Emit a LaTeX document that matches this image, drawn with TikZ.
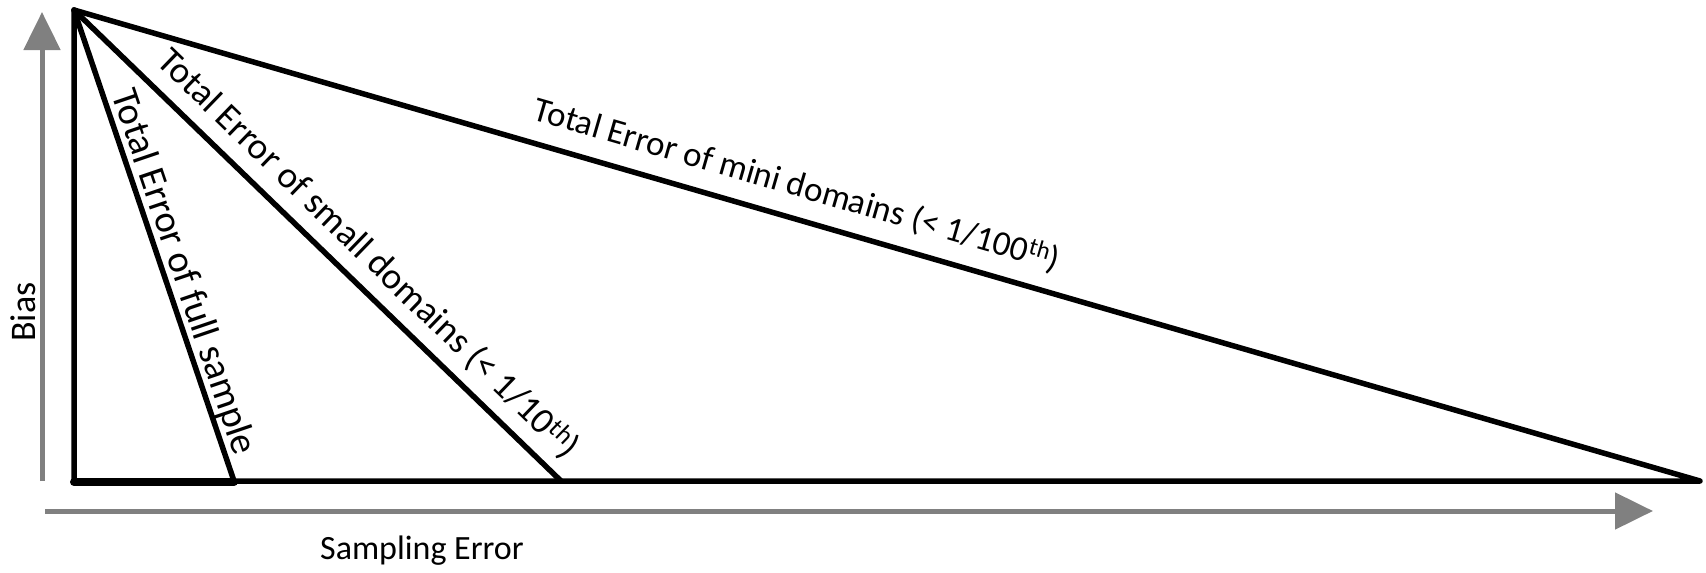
\documentclass[tikz,border=0pt]{standalone}
\usepackage{fontspec}
\setmainfont{Carlito}
\usetikzlibrary{arrows.meta}
\definecolor{axisgray}{RGB}{128,128,128}
\begin{document}
\begin{tikzpicture}[x=1pt,y=-1pt,
  edge/.style={line width=5.5pt, line join=round, line cap=round},
  axis/.style={draw=axisgray, line width=5pt, -{Triangle[length=38pt,width=36pt]}},
  lbl/.style={font=\fontsize{#1}{#1}\selectfont, inner sep=0pt, sloped},
  plain/.style={font=\fontsize{#1}{#1}\selectfont, inner sep=0pt}
]
\useasboundingbox (0,0) rectangle (1706,573);
\coordinate (A) at (74,10);
\coordinate (O) at (74,481);
\coordinate (F) at (234,481);
\coordinate (S) at (561,481);
\coordinate (M) at (1700,481);
\coordinate (ya0) at (42,481);
\coordinate (ya1) at (42,12);
\coordinate (xa0) at (45,511);
\coordinate (xa1) at (1653,511);
\draw[axis] (ya0) -- (ya1);
\draw[axis] (xa0) -- (xa1);
\draw[edge] (O) -- (A) -- (M) -- cycle;
\draw[edge] (A) -- (S);
\draw[edge] (A) -- (F);
\draw[line width=8pt, line cap=round] ([yshift=-1pt]O) -- ([yshift=-1pt]F);
\path (A) -- (M) node[lbl=35, pos=0.439, above=17pt] (lm) {Total Error of mini domains (< 1/100\textsuperscript{th})};
\path (A) -- (S) node[lbl=37, pos=0.563, above=13pt] (ls) {Total Error of small domains (< 1/10\textsuperscript{th})};
\path (A) -- (F) node[lbl=38.5, pos=0.57, above=2pt] (lf) {Total Error of full sample};
\node[plain=34, anchor=base] (xl) at (422,559) {Sampling Error};
\node[plain=36, anchor=base, rotate=90] (yl) at (35,312) {Bias};
\end{tikzpicture}
\end{document}
